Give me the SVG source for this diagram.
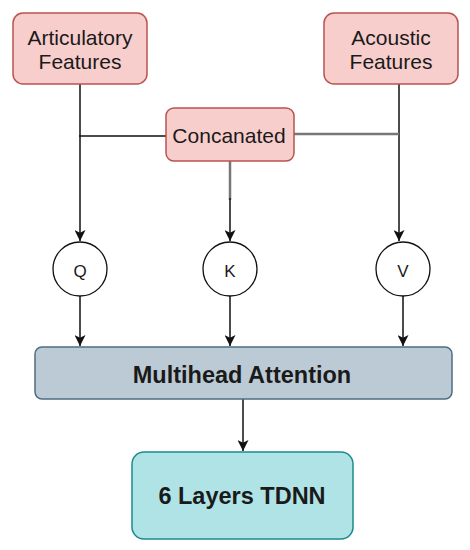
<svg xmlns="http://www.w3.org/2000/svg" width="470" height="550" viewBox="0 0 470 550">
<style>
.pink{fill:#f8cecc;stroke:#b85450;stroke-width:1.5}
.t{font-family:"Liberation Sans",Arial,sans-serif;fill:#1a1a1a;text-anchor:middle}
.e{stroke:#111;stroke-width:1.5;fill:none}
.g{stroke:#777;stroke-width:2.5;fill:none}
.c{fill:#fff;stroke:#111;stroke-width:1.3}
</style>
<defs>
<marker id="arr" viewBox="0 0 10 10" refX="10" refY="5" markerWidth="11" markerHeight="11" markerUnits="userSpaceOnUse" orient="auto">
<path d="M0,0 L10,5 L0,10 L2.5,5 z" fill="#111"/>
</marker>
</defs>
<g id="connectors">
<path class="e" d="M80,84 V241" marker-end="url(#arr)"/>
<path class="e" d="M399,84 V241" marker-end="url(#arr)"/>
<path class="e" d="M79,136 H166"/>
<path class="g" d="M294,134 H399"/>
<path class="g" d="M230,161 V200"/>
<path class="e" d="M230,198 V241" marker-end="url(#arr)"/>
<path class="e" d="M80,296 V346" marker-end="url(#arr)"/>
<path class="e" d="M230,296 V346" marker-end="url(#arr)"/>
<path class="e" d="M403,296 V346" marker-end="url(#arr)"/>
<path class="e" d="M243,399 V451" marker-end="url(#arr)"/>
</g>
<g id="articulatory">
<rect class="pink" x="13" y="13" width="134" height="71" rx="10"/>
<text class="t" x="80" y="45" font-size="21">Articulatory</text>
<text class="t" x="80" y="69" font-size="21">Features</text>
</g>
<g id="acoustic">
<rect class="pink" x="324" y="13" width="134" height="71" rx="10"/>
<text class="t" x="391" y="45" font-size="21">Acoustic</text>
<text class="t" x="391" y="69" font-size="21">Features</text>
</g>
<g id="concanated">
<rect class="pink" x="166" y="108" width="128" height="53" rx="8"/>
<text class="t" x="229" y="143" font-size="21">Concanated</text>
</g>
<g id="q">
<circle class="c" cx="80" cy="269" r="27"/>
<text class="t" x="80" y="277" font-size="17">Q</text>
</g>
<g id="k">
<circle class="c" cx="230" cy="269" r="27"/>
<text class="t" x="230" y="277" font-size="17">K</text>
</g>
<g id="v">
<circle class="c" cx="403" cy="269" r="27"/>
<text class="t" x="403" y="277" font-size="17">V</text>
</g>
<g id="multihead">
<rect x="35" y="347" width="417" height="52" rx="7" fill="#bccad5" stroke="#4e6d80" stroke-width="1.5"/>
<text class="t" x="242" y="383" font-size="23.5" font-weight="bold">Multihead Attention</text>
</g>
<g id="tdnn">
<rect x="132" y="452" width="221" height="87" rx="12" fill="#b0e3e6" stroke="#1a8a90" stroke-width="1.5"/>
<text class="t" x="242" y="504" font-size="23.5" font-weight="bold">6 Layers TDNN</text>
</g>
</svg>
